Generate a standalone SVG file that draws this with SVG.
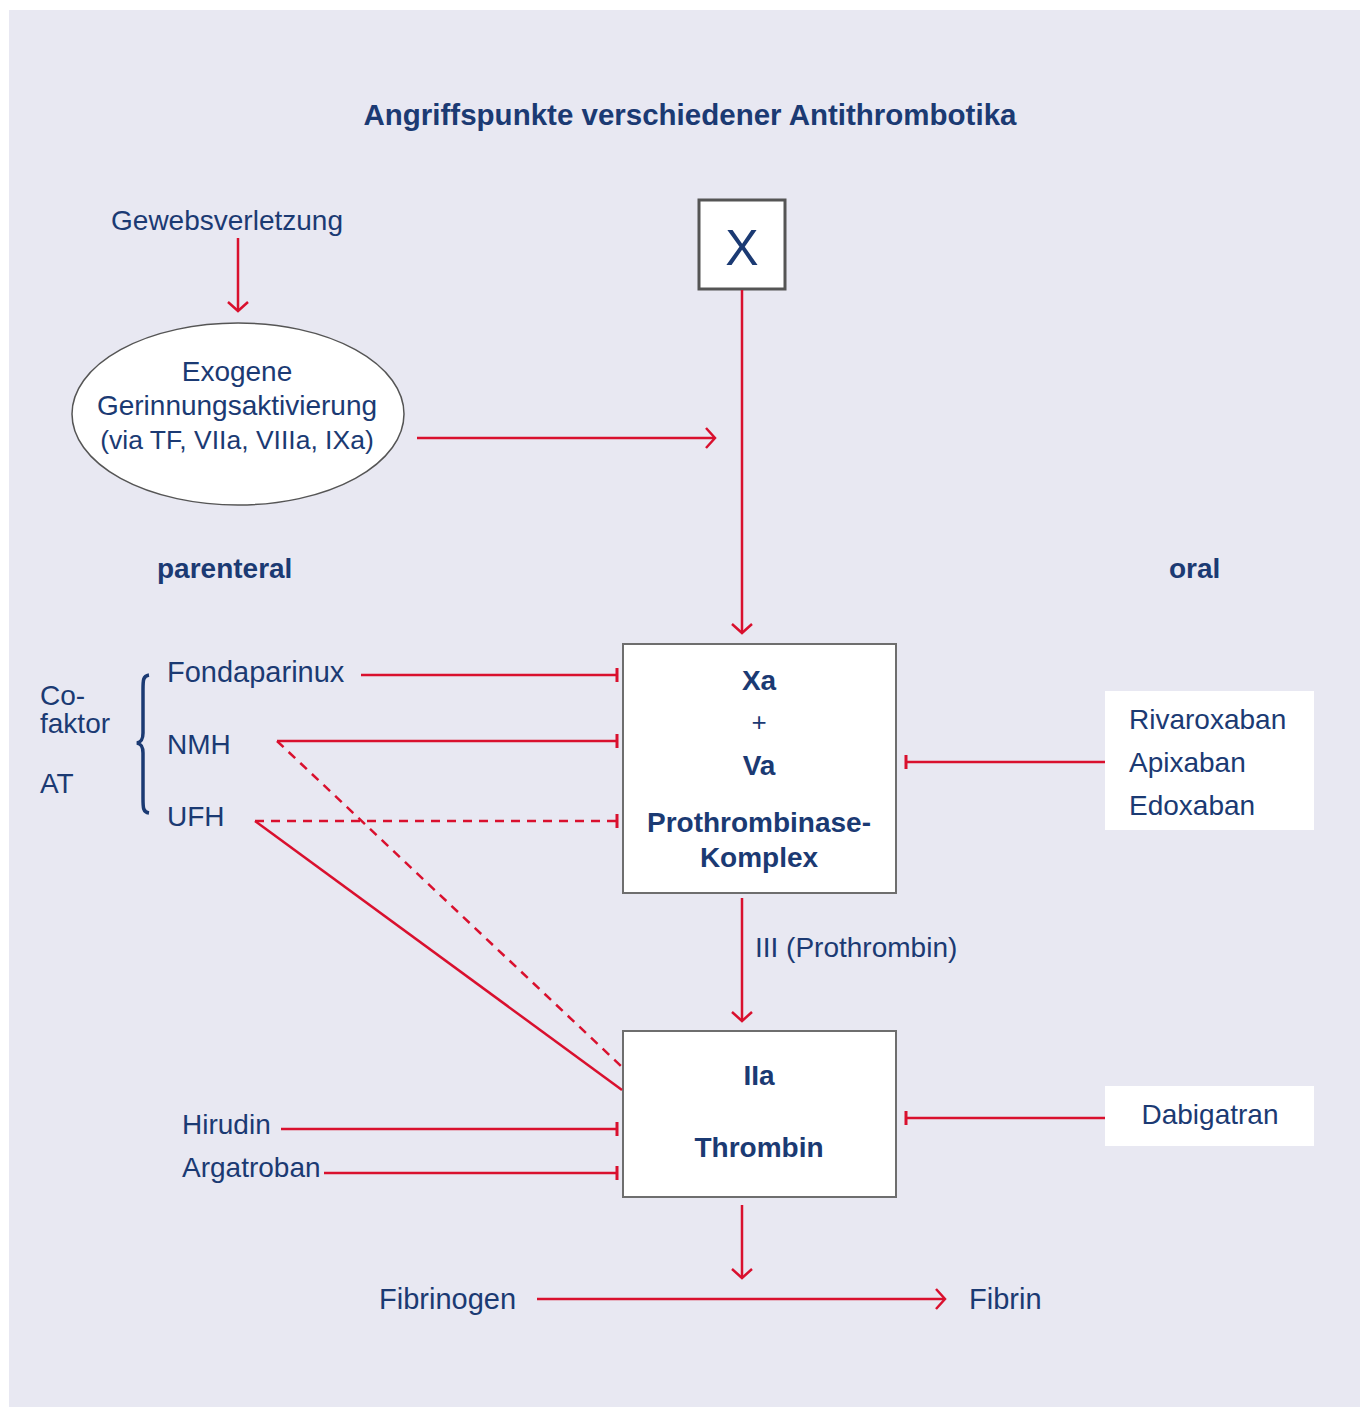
<svg xmlns="http://www.w3.org/2000/svg" width="1360" height="1407" viewBox="0 0 1360 1407">
<style>
.t{font-family:"Liberation Sans",Arial,sans-serif;fill:#1b3a73;font-size:28px}
.b{font-weight:bold}
.m{text-anchor:middle}
.ln{stroke:#d9102e;stroke-width:2.5;fill:none}
.ds{stroke-dasharray:9,7}
.box{fill:#fff;stroke:#6e6e6e;stroke-width:2}
</style>
<defs>
<marker id="ah" markerUnits="userSpaceOnUse" markerWidth="24" markerHeight="24" refX="12" refY="12" orient="auto" viewBox="0 0 24 24">
<path d="M3,2 L12,12 L3,22" fill="none" stroke="#d9102e" stroke-width="2.5"/>
</marker>
<marker id="tb" markerUnits="userSpaceOnUse" markerWidth="8" markerHeight="20" refX="4" refY="10" orient="auto" viewBox="0 0 8 20">
<path d="M4,3 L4,17" stroke="#d9102e" stroke-width="3"/>
</marker>
</defs>
<rect x="9" y="10" width="1351" height="1397" fill="#e8e8f2"/>
<text class="t b m" x="690" y="125" style="font-size:29.5px">Angriffspunkte verschiedener Antithrombotika</text>

<g id="gewebsverletzung"><text class="t m" x="227" y="230">Gewebsverletzung</text></g>
<g id="exogene">
<ellipse cx="238" cy="414" rx="166" ry="91" fill="#fff" stroke="#555" stroke-width="1.5"/>
<text class="t m" x="237" y="381">Exogene</text>
<text class="t m" x="237" y="415">Gerinnungsaktivierung</text>
<text class="t m" x="237" y="449" style="font-size:26.5px">(via TF, VIIa, VIIIa, IXa)</text>
</g>
<g id="factorX">
<rect x="699" y="200" width="86" height="89" fill="#fff" stroke="#555" stroke-width="3"/>
<text class="t m" x="742" y="265" style="font-size:50px">X</text>
</g>
<text class="t b" x="157" y="578">parenteral</text>
<text class="t b" x="1169" y="578">oral</text>

<g id="prothrombinase">
<rect class="box" x="623" y="644" width="273" height="249"/>
<text class="t b m" x="759" y="690">Xa</text>
<text class="t m" x="759" y="731" style="font-size:26px">+</text>
<text class="t b m" x="759" y="775">Va</text>
<text class="t b m" x="759" y="832">Prothrombinase-</text>
<text class="t b m" x="759" y="867">Komplex</text>
</g>
<g id="thrombin">
<rect class="box" x="623" y="1031" width="273" height="166"/>
<text class="t b m" x="759" y="1085">IIa</text>
<text class="t b m" x="759" y="1157">Thrombin</text>
</g>
<g id="cofaktor">
<text class="t" x="40" y="705">Co-</text>
<text class="t" x="40" y="733">faktor</text>
<text class="t" x="40" y="793">AT</text>
<path d="M149,675 C143,676 143,680 143,690 L143,733 C143,740 141,742 137,743 C141,744 143,746 143,753 L143,798 C143,808 143,812 149,813" fill="none" stroke="#1b3a73" stroke-width="3.5"/>
</g>
<g id="fondaparinux"><text class="t" x="167" y="682" style="font-size:29px">Fondaparinux</text></g>
<g id="nmh"><text class="t" x="167" y="754">NMH</text></g>
<g id="ufh"><text class="t" x="167" y="826">UFH</text></g>
<g id="hirudin"><text class="t" x="182" y="1134">Hirudin</text></g>
<g id="argatroban"><text class="t" x="182" y="1177">Argatroban</text></g>
<g id="oral-xa">
<rect x="1105" y="691" width="209" height="139" fill="#fff"/>
<text class="t" x="1129" y="729">Rivaroxaban</text>
<text class="t" x="1129" y="772">Apixaban</text>
<text class="t" x="1129" y="815">Edoxaban</text>
</g>
<g id="dabigatran">
<rect x="1105" y="1086" width="209" height="60" fill="#fff"/>
<text class="t m" x="1210" y="1124">Dabigatran</text>
</g>
<g id="fibrinogen"><text class="t" x="379" y="1309" style="font-size:29px">Fibrinogen</text></g>
<g id="fibrin"><text class="t" x="969" y="1309" style="font-size:29px">Fibrin</text></g>
<text class="t" x="755" y="957">III (Prothrombin)</text>

<g id="connectors">
<line class="ln" x1="238" y1="238" x2="238" y2="311" marker-end="url(#ah)"/>
<line class="ln" x1="417" y1="438" x2="715" y2="438" marker-end="url(#ah)"/>
<line class="ln" x1="742" y1="290" x2="742" y2="633" marker-end="url(#ah)"/>
<line class="ln" x1="742" y1="898" x2="742" y2="1021" marker-end="url(#ah)"/>
<line class="ln" x1="742" y1="1205" x2="742" y2="1278" marker-end="url(#ah)"/>
<line class="ln" x1="537" y1="1299" x2="945" y2="1299" marker-end="url(#ah)"/>
<line class="ln" x1="361" y1="675" x2="617" y2="675" marker-end="url(#tb)"/>
<line class="ln" x1="277" y1="741" x2="617" y2="741" marker-end="url(#tb)"/>
<line class="ln ds" x1="255" y1="821" x2="617" y2="821" marker-end="url(#tb)"/>
<line class="ln ds" x1="277" y1="741" x2="622" y2="1067"/>
<line class="ln" x1="255" y1="821" x2="622" y2="1090"/>
<line class="ln" x1="281" y1="1129" x2="617" y2="1129" marker-end="url(#tb)"/>
<line class="ln" x1="324" y1="1173" x2="617" y2="1173" marker-end="url(#tb)"/>
<line class="ln" x1="1105" y1="762" x2="906" y2="762" marker-end="url(#tb)"/>
<line class="ln" x1="1105" y1="1118" x2="906" y2="1118" marker-end="url(#tb)"/>
</g>
</svg>
